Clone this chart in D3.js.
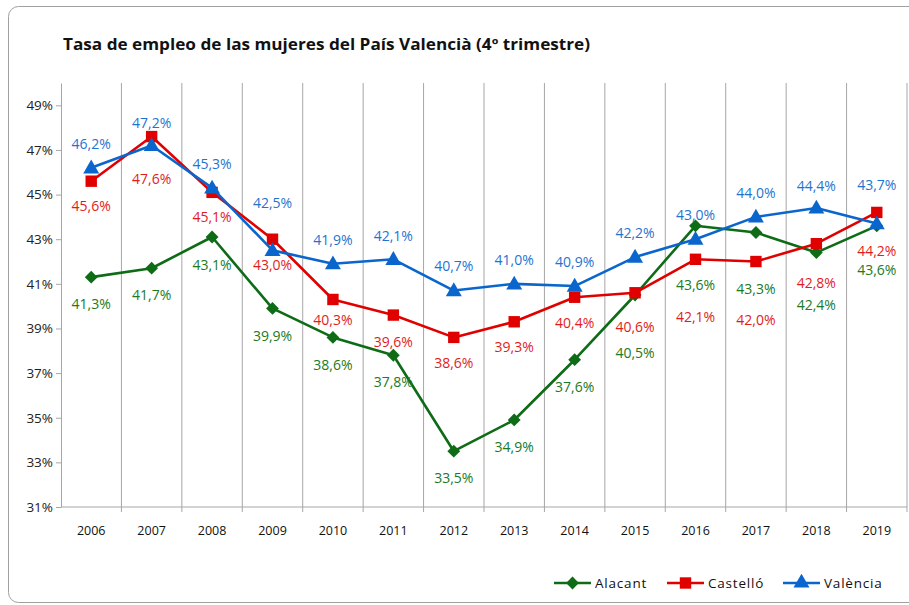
<!DOCTYPE html>
<html>
<head>
<meta charset="utf-8">
<script src="https://cdn.jsdelivr.net/npm/d3@7"></script>
<style>
  body { margin: 0; background: #fff; }
  svg { display: block; font-family: "Open Sans", sans-serif; }
</style>
</head>
<body>
<svg id="canvas" width="909" height="605"></svg>
<script>
// values (%)
const years = ["2006","2007","2008","2009","2010","2011","2012","2013","2014","2015","2016","2017","2018","2019"];
const alacant  = [41.3, 41.7, 43.1, 39.9, 38.6, 37.8, 33.5, 34.9, 37.6, 40.5, 43.6, 43.3, 42.4, 43.6];
const castello = [45.6, 47.6, 45.1, 43.0, 40.3, 39.6, 38.6, 39.3, 40.4, 40.6, 42.1, 42.0, 42.8, 44.2];
const valencia = [46.2, 47.2, 45.3, 42.5, 41.9, 42.1, 40.7, 41.0, 40.9, 42.2, 43.0, 44.0, 44.4, 43.7];
const yTicks = [31, 33, 35, 37, 39, 41, 43, 45, 47, 49];

// label offsets (px, vertical) so they sit like the original
const alacantDy  = [27, 27, 28, 28, 28, 27, 27, 27, 27, 58, 59, 56, 52, 44];
const castelloDy = [25, 42, 25, 26, 20, 27, 26, 25, 26, 34, 58, 58, 39, 39];
const valenciaDy = [-24, -23, -24, -47, -24, -23, -25, -24, -24, -24, -24, -24, -22, -39];

const svg = d3.select("#canvas");
const plotLeft = 61, plotRight = 907, plotTop = 83, plotBottom = 507;

// frame
svg.append("rect")
  .attr("x", 8.5).attr("y", 6.5)
  .attr("width", 920).attr("height", 596)
  .attr("rx", 10)
  .attr("fill", "none")
  .attr("stroke", "#a0a0a0");

svg.append("text")
  .attr("x", 63).attr("y", 50)
  .attr("font-size", 15.5)
  .attr("font-weight", "bold")
  .attr("fill", "#111")
  .attr("textLength", 527)
  .attr("lengthAdjust", "spacingAndGlyphs")
  .text("Tasa de empleo de las mujeres del País Valencià (4º trimestre)");

const x = d3.scaleBand().domain(years).range([plotLeft, plotRight]);
const y = d3.scaleLinear().domain([31, 50]).range([plotBottom, plotTop]);
const cx = d => x(d) + x.bandwidth() / 2;

// vertical grid lines at category boundaries
const bounds = years.map(d => x(d)).concat([plotRight]);
svg.append("g").selectAll("line")
  .data(bounds.slice(1))
  .enter().append("line")
  .attr("x1", d => d).attr("x2", d => d)
  .attr("y1", plotTop).attr("y2", plotBottom + 5)
  .attr("stroke", "#a6a6a6");

// y axis
const yAxis = svg.append("g")
  .attr("transform", `translate(${plotLeft},0)`)
  .call(d3.axisLeft(y).tickValues(yTicks).tickSize(5).tickSizeOuter(0).tickFormat(d => d + "%"));
yAxis.select(".domain").attr("stroke", "#a6a6a6");
yAxis.selectAll(".tick line").attr("stroke", "#a6a6a6");
yAxis.selectAll(".tick text")
  .attr("font-family", "Open Sans").attr("font-size", 13.5).attr("fill", "#222").attr("x", -8);

// x axis line and labels
svg.append("line")
  .attr("x1", plotLeft).attr("x2", plotRight)
  .attr("y1", plotBottom).attr("y2", plotBottom)
  .attr("stroke", "#a6a6a6");
svg.append("g").selectAll("text")
  .data(years)
  .enter().append("text")
  .attr("x", d => cx(d))
  .attr("y", 535)
  .attr("text-anchor", "middle")
  .attr("font-size", 12.5)
  .attr("fill", "#111")
  .text(d => d);

const series = [
  { name: "Alacant",  values: alacant,  dy: alacantDy,  line: "#0e6b16", text: "#207a25", marker: "diamond" },
  { name: "Castelló", values: castello, dy: castelloDy, line: "#e00000", text: "#e21c1c", marker: "square" },
  { name: "València", values: valencia, dy: valenciaDy, line: "#0a66cc", text: "#1f74d0", marker: "triangle" }
];

const symbolFor = m => {
  if (m === "diamond") return d3.symbol().type(d3.symbolSquare).size(82)();
  if (m === "square") return d3.symbol().type(d3.symbolSquare).size(130)();
  return d3.symbol().type(d3.symbolTriangle).size(110)();
};
const rotFor = m => m === "diamond" ? " rotate(45)" : "";

const fmt = v => v.toFixed(1).replace(".", ",") + "%";

const line = d3.line().x((d, i) => cx(years[i])).y(d => y(d));

series.forEach(s => {
  const g = svg.append("g");
  g.append("path")
    .attr("d", line(s.values))
    .attr("fill", "none")
    .attr("stroke", s.line)
    .attr("stroke-width", 2.6)
    .attr("stroke-linejoin", "round");
  g.selectAll("path.mk")
    .data(s.values)
    .enter().append("path")
    .attr("class", "mk")
    .attr("d", symbolFor(s.marker))
    .attr("transform", (d, i) => `translate(${cx(years[i])},${y(d) + (s.marker === "triangle" ? 1 : 0)})${rotFor(s.marker)}`)
    .attr("fill", s.line);
});

// data labels on top
series.forEach(s => {
  svg.append("g").selectAll("text")
    .data(s.values)
    .enter().append("text")
    .attr("x", (d, i) => cx(years[i]))
    .attr("y", (d, i) => y(d) + s.dy[i])
    .attr("dy", "0.36em")
    .attr("text-anchor", "middle")
    .attr("font-size", 14)
    .attr("fill", s.text)
    .text(d => fmt(d));
});

// legend
const legendX = [554, 667, 783];
const legend = svg.append("g");
series.forEach((s, i) => {
  const lg = legend.append("g").attr("transform", `translate(${legendX[i]},583)`);
  lg.append("line").attr("x1", 0).attr("x2", 37).attr("y1", 0).attr("y2", 0)
    .attr("stroke", s.line).attr("stroke-width", 2.6);
  lg.append("path")
    .attr("d", symbolFor(s.marker))
    .attr("transform", `translate(18.5,0)${rotFor(s.marker)}`)
    .attr("fill", s.line);
  lg.append("text")
    .attr("x", 41).attr("y", 0).attr("dy", "0.36em")
    .attr("font-size", 13.5)
    .attr("letter-spacing", 0.8)
    .attr("fill", "#111")
    .text(s.name);
});
</script>
</body>
</html>
